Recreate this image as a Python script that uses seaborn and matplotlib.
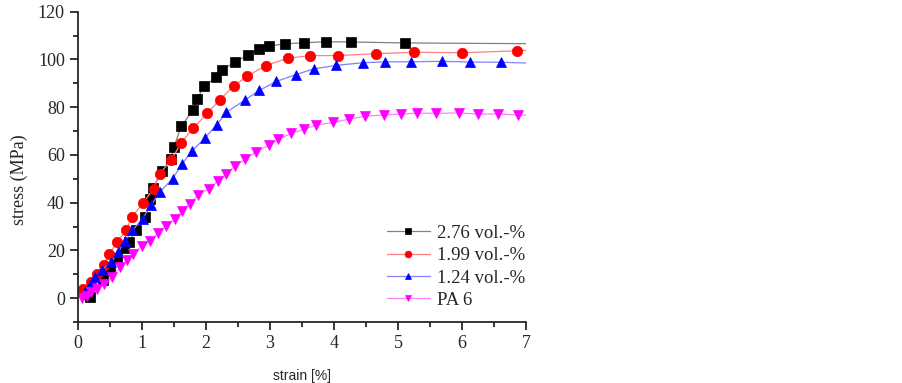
import numpy as np
import pandas as pd
import seaborn as sns
import matplotlib.pyplot as plt
from matplotlib.ticker import MultipleLocator

# values
strain_276 = [0.19, 0.39, 0.50, 0.61, 0.72, 0.80, 0.90, 1.05, 1.13, 1.17, 1.31, 1.45, 1.50,
              1.61, 1.80, 1.86, 1.97, 2.16, 2.25, 2.45, 2.66, 2.83, 2.98, 3.23, 3.53, 3.87,
              4.27, 5.11, 7.00]
stress_276 = [0.4, 7.4, 12.4, 17.0, 21.0, 23.7, 28.4, 33.8, 41.4, 46.0, 53.2, 58.2, 63.2,
              72.0, 78.8, 83.3, 88.8, 92.6, 95.6, 98.8, 102.0, 104.3, 105.6, 106.5, 107.0, 107.4,
              107.3, 106.9, 106.6]

strain_199 = [0.04, 0.08, 0.20, 0.29, 0.40, 0.49, 0.61, 0.75, 0.84, 1.02, 1.18, 1.28, 1.46,
              1.61, 1.80, 2.02, 2.22, 2.43, 2.64, 2.93, 3.28, 3.63, 4.06, 4.66, 5.25, 6.00,
              6.86, 7.00]
stress_199 = [2.5, 3.9, 6.7, 9.9, 14.0, 18.6, 23.4, 28.4, 34.0, 39.9, 45.9, 52.2, 58.0,
              65.0, 71.2, 77.4, 83.2, 88.8, 92.9, 97.4, 100.5, 101.6, 101.6, 102.4, 103.0, 102.8,
              103.6, 103.8]

strain_124 = [0.11, 0.19, 0.27, 0.37, 0.52, 0.63, 0.73, 0.85, 1.01, 1.14, 1.28, 1.48, 1.62,
              1.78, 1.98, 2.17, 2.32, 2.61, 2.83, 3.10, 3.40, 3.68, 4.03, 4.45, 4.80, 5.20,
              5.68, 6.13, 6.61, 7.00]
stress_124 = [2.5, 5.3, 8.8, 11.6, 15.1, 19.3, 23.9, 28.4, 33.3, 38.9, 44.5, 50.1, 56.0,
              61.6, 67.0, 72.7, 77.9, 83.0, 87.0, 90.8, 93.6, 96.0, 97.5, 98.6, 99.0, 99.0,
              99.2, 98.9, 98.8, 98.5]

strain_pa6 = [0.06, 0.14, 0.21, 0.29, 0.40, 0.53, 0.66, 0.76, 0.86, 1.00, 1.13, 1.25, 1.38,
              1.52, 1.62, 1.75, 1.87, 2.05, 2.18, 2.32, 2.45, 2.61, 2.78, 2.99, 3.13, 3.33,
              3.53, 3.72, 3.98, 4.24, 4.48, 4.78, 5.05, 5.29, 5.60, 5.96, 6.25, 6.57, 6.87, 7.00]
stress_pa6 = [0.0, 0.7, 2.5, 3.9, 6.0, 8.8, 13.0, 15.8, 18.6, 21.7, 23.9, 27.3, 30.1,
              33.3, 36.5, 39.6, 43.1, 45.9, 49.0, 51.9, 55.3, 58.1, 61.3, 64.1, 66.5, 69.0,
              70.7, 72.5, 73.6, 75.0, 76.2, 76.7, 77.1, 77.5, 77.4, 77.6, 77.1, 77.1, 76.7, 76.7]

labels = ['2.76 vol.-%', '1.99 vol.-%', '1.24 vol.-%', 'PA 6']

sns.set_style('ticks')
plt.rcParams['font.family'] = ['Liberation Serif', 'DejaVu Serif']

fig = plt.figure(figsize=(9.03, 3.83), dpi=100)
ax = fig.add_axes([0.0864, 0.1593, 0.4961, 0.8102])

series = [
    (strain_276, stress_276, '#808080', 'black', 's', 7.0),
    (strain_199, stress_199, '#ff8080', 'red', 'o', 7.5),
    (strain_124, stress_124, '#8080ff', 'blue', '^', 7.5),
    (strain_pa6, stress_pa6, '#ff80ff', 'magenta', 'v', 7.5),
]
for (sx, sy, lc, mc, mk, ms), lab in zip(series, labels):
    df = pd.DataFrame({'strain': sx, 'stress': sy})
    # last point only carries the line to the axis end, no marker there
    sns.lineplot(data=df, x='strain', y='stress', ax=ax, color=lc, lw=0.9,
                 marker=mk, markersize=ms, markerfacecolor=mc, markeredgecolor=mc,
                 markeredgewidth=0.5, markevery=list(range(len(sx) - 1)),
                 label=lab, sort=False)

ax.set_xlim(0, 7)
ax.set_ylim(-10, 120)
ax.xaxis.set_major_locator(MultipleLocator(1))
ax.xaxis.set_minor_locator(MultipleLocator(0.5))
ax.yaxis.set_major_locator(MultipleLocator(20))
ax.yaxis.set_minor_locator(MultipleLocator(10))
ax.tick_params(which='major', length=6, width=1.3, labelsize=13, direction='out')
ax.tick_params(which='minor', length=3.5, width=1.3, direction='out')
for s in ['left', 'bottom']:
    ax.spines[s].set_linewidth(1.3)
sns.despine(ax=ax)

ax.set_xlabel('strain [%]', fontsize=10, family=['Liberation Sans', 'DejaVu Sans'], labelpad=12)
ax.set_ylabel('stress (MPa)', fontsize=13)
ax.yaxis.set_label_coords(-0.112, 0.46)

ax.legend(loc='lower right', bbox_to_anchor=(1.02, 0.012), frameon=False, fontsize=13.5,
          markerscale=0.65, handlelength=2.3, handletextpad=0.4, labelspacing=0.28,
          borderpad=0)

fig.savefig('out.png', dpi=100)
